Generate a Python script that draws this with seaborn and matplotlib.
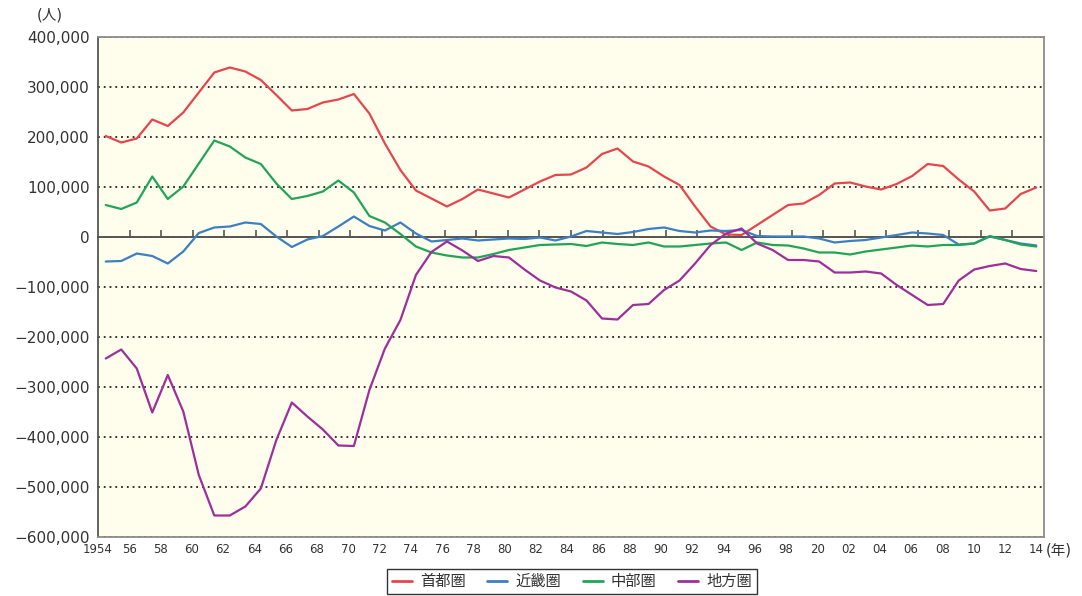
import numpy as np
import pandas as pd
import matplotlib
matplotlib.use("Agg")
import matplotlib.pyplot as plt
import seaborn as sns
from matplotlib.ticker import FuncFormatter

# Net migration by region, 1954-2014 (persons)
years = list(range(1954, 2015))

shutoken = [202000, 189000, 197000, 235000, 222000, 249000, 289000, 329000, 339000, 331000,
            314000, 284000, 253000, 256000, 269000, 275000, 286000, 247000, 187000, 134000,
            93000,
            77000, 61000, 76000, 95000, 87000, 79000, 95000, 111000, 124000, 125000,
            139000, 166000, 177000, 151000, 141000, 121000, 104000, 61000, 21000, 5000,
            4000, 24000, 44000, 64000, 67000, 84000, 107000, 109000, 101000, 95000,
            106000, 122000, 146000, 142000, 115000, 91000, 53000, 57000, 86000, 99000]

kinki = [-49000, -48000, -33000, -38000, -53000, -29000, 8000, 19000, 21000, 29000,
         26000, 1000, -20000, -5000, 2000, 21000, 41000, 22000, 13000, 29000,
         7000,
         -9000, -6000, -3000, -7000, -5000, -3000, -4000, -1000, -7000, 1000,
         12000, 9000, 6000, 10000, 16000, 19000, 12000, 9000, 13000, 12000,
         14000, 2000, 1000, 1000, 1000, -3000, -11000, -8000, -6000, -1000,
         4000, 9000, 7000, 4000, -15000, -13000, 1000, -6000, -13000, -17000]

chubu = [64000, 56000, 69000, 121000, 76000, 101000, 147000, 193000, 181000, 159000,
         146000, 107000, 76000, 82000, 91000, 113000, 89000, 42000, 29000, 6000,
         -19000,
         -31000, -37000, -41000, -41000, -34000, -26000, -21000, -16000, -15000, -14000,
         -18000, -11000, -14000, -16000, -11000, -19000, -19000, -16000, -13000, -11000,
         -26000, -11000, -16000, -17000, -23000, -31000, -31000, -35000, -29000, -25000,
         -21000, -17000, -19000, -16000, -16000, -13000, 2000, -6000, -15000, -19000]

chiho = [-243000, -225000, -263000, -351000, -276000, -349000, -476000, -557000, -557000, -539000,
         -503000, -406000, -331000, -359000, -385000, -417000, -418000, -306000, -223000, -166000,
         -76000,
         -30000, -9000, -27000, -48000, -38000, -41000, -65000, -87000, -101000, -109000,
         -127000, -163000, -165000, -136000, -134000, -106000, -87000, -53000, -16000, 7000,
         17000, -13000, -26000, -46000, -46000, -49000, -71000, -71000, -69000, -73000,
         -96000, -116000, -136000, -134000, -87000, -65000, -58000, -53000, -64000, -68000]

region_names = ["首都圏", "近畿圏", "中部圏", "地方圏"]
region_colors = ["#E4464E", "#3C7FC2", "#22A35A", "#9C2F9A"]

year_labels = ["1954", "56", "58", "60", "62", "64", "66", "68", "70", "72", "74",
               "76", "78", "80", "82", "84", "86", "88", "90", "92", "94", "96",
               "98", "20", "02", "04", "06", "08", "10", "12", "14"]

y_ticks = list(range(-600000, 400001, 100000))

df = pd.DataFrame({"year": years, "首都圏": shutoken, "近畿圏": kinki,
                   "中部圏": chubu, "地方圏": chiho})
long_df = df.melt(id_vars="year", var_name="region", value_name="value")

sns.set_theme(style="white")
plt.rcParams["font.family"] = ["DejaVu Sans", "Noto Sans CJK JP"]
plt.rcParams["axes.unicode_minus"] = True

W, H = 1082, 596
fig = plt.figure(figsize=(W / 100, H / 100), dpi=100)
fig.patch.set_facecolor("white")
ax = fig.add_axes([98 / W, 1 - 537 / H, (1044 - 98) / W, 500 / H])
ax.set_facecolor("#FFFDEC")

sns.lineplot(data=long_df, x="year", y="value", hue="region",
             hue_order=region_names, palette=region_colors,
             linewidth=1.6, ax=ax, zorder=3)

ax.set_xlim(1953.5, 2014.5)
ax.set_ylim(-600000, 400000)
ax.set_xlabel("")
ax.set_ylabel("")

# y axis: comma-separated values with a true minus sign
ax.set_yticks(y_ticks)
ax.yaxis.set_major_formatter(
    FuncFormatter(lambda v, p: f"{v:,.0f}".replace("-", "\u2212")))
ax.tick_params(axis="y", length=0, pad=6, labelsize=11, labelcolor="#333333")

# x axis: every second year, spread across the axis width
label_pos = np.linspace(1953.5, 2014.0, len(year_labels))
ax.set_xticks(label_pos, labels=year_labels)
ax.tick_params(axis="x", length=0, pad=4, labelsize=8.5, labelcolor="#333333")

# dotted horizontal grid
ax.yaxis.grid(True, color="#222222", linestyle=(0, (1, 2.2)), linewidth=1.3)
ax.xaxis.grid(False)
ax.set_axisbelow(True)

for side in ["top", "right", "bottom"]:
    ax.spines[side].set_color("#8C8C8C")
    ax.spines[side].set_linewidth(1.3)
ax.spines["left"].set_color("#555555")
ax.spines["left"].set_linewidth(1.3)

# zero line with small upward tick marks
zero_frac = (0 - (-600000)) / (400000 - (-600000))
sec = ax.secondary_xaxis(zero_frac)
sec.set_xticks(np.linspace(1953.5, 2014.5, len(year_labels))[1:-1], labels=[])
sec.tick_params(axis="x", length=5, width=1.2, color="#555555", direction="out")
sec.spines["top"].set_color("#555555")
sec.spines["top"].set_linewidth(1.4)
sec.set_zorder(2)

# legend below the chart
handles, labels = ax.get_legend_handles_labels()
ax.get_legend().remove()
for h in handles:
    h.set_linewidth(2.0)
leg = fig.legend(handles, labels, loc="center", ncol=4,
                 bbox_to_anchor=(572 / W, 1 - 581.5 / H),
                 fontsize=11, frameon=True, fancybox=False, framealpha=1,
                 edgecolor="#333333", handlelength=1.3, handletextpad=0.55,
                 columnspacing=1.4, borderpad=0.3, borderaxespad=0)
leg.get_frame().set_linewidth(1.0)
for t in leg.get_texts():
    t.set_color("#333333")

fig.text(50 / W, 1 - 15 / H, "(人)", ha="center", va="center",
         fontsize=10.5, color="#333333")
fig.text(1046 / W, 1 - 550 / H, "(年)", ha="left", va="center",
         fontsize=10.5, color="#333333")

fig.savefig("out.png", dpi=100)
